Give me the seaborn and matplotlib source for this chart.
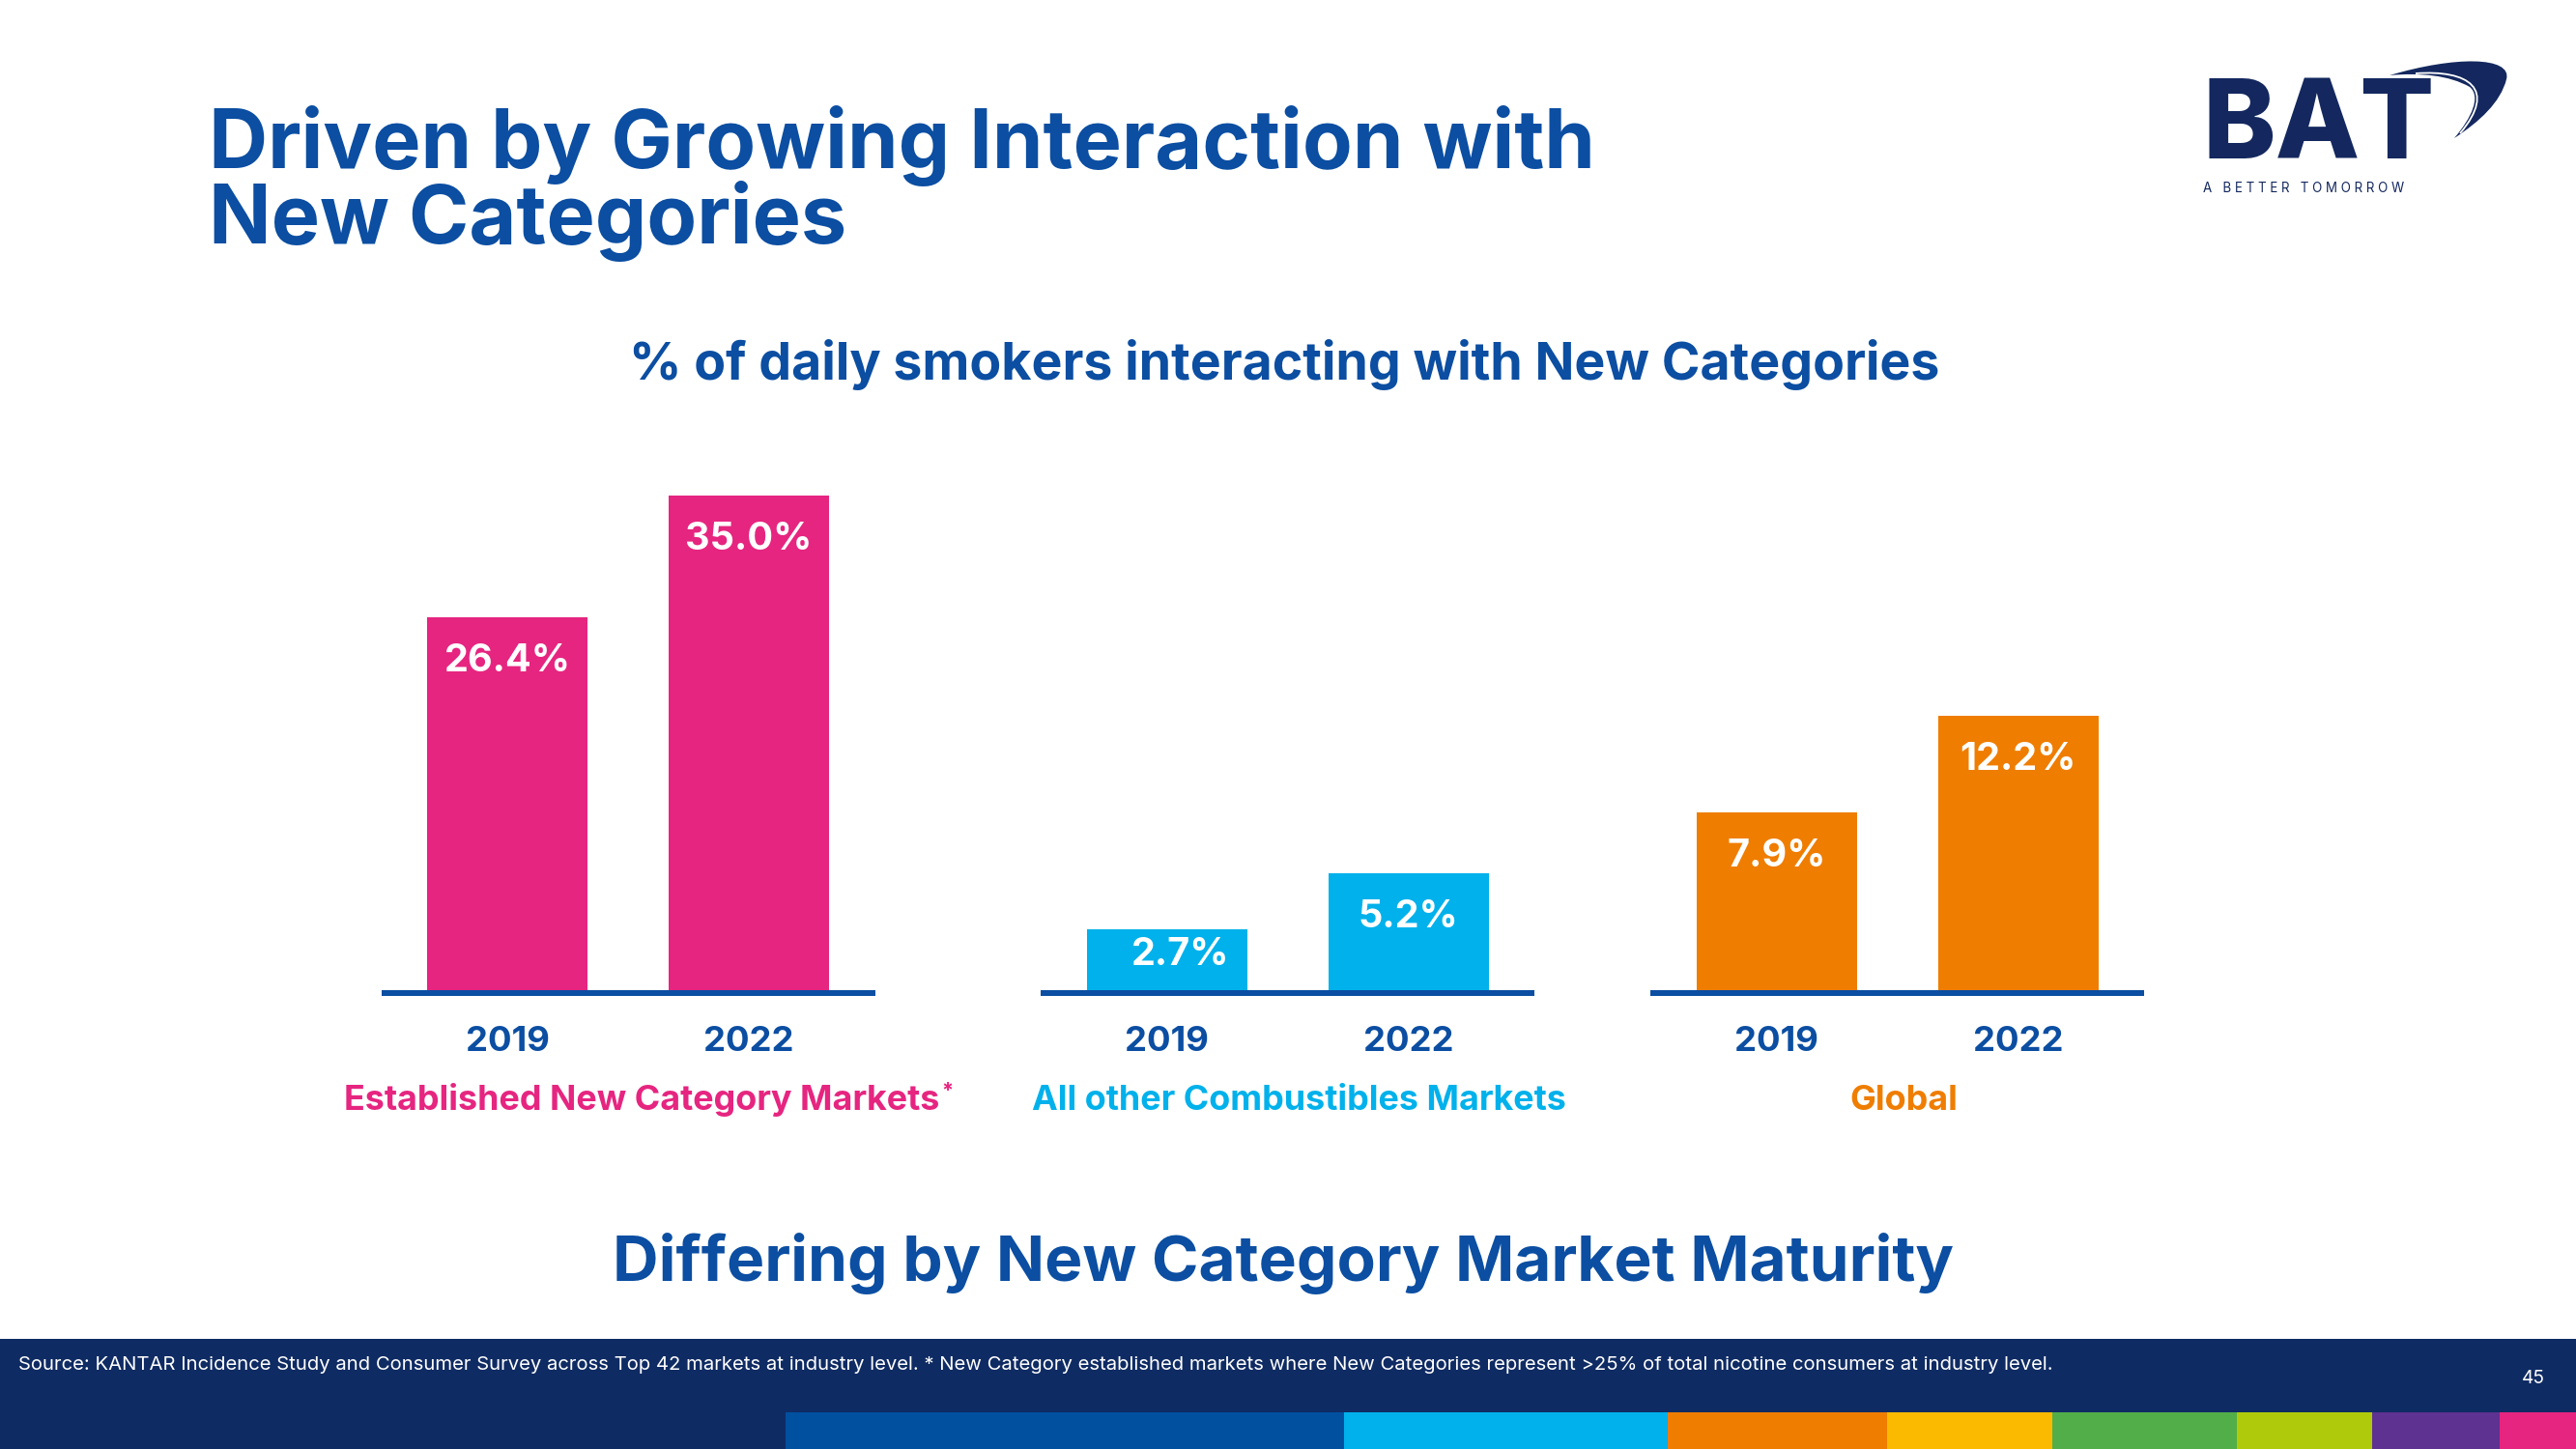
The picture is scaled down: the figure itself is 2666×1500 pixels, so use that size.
import matplotlib
matplotlib.use("Agg")
import matplotlib.pyplot as plt
import matplotlib.transforms as mtransforms
from matplotlib.patches import Rectangle, PathPatch
from matplotlib.path import Path
import seaborn as sns
import pandas as pd

# ---------------- data ----------------
years = ["2019", "2022"]
group_names = ["Established New Category Markets",
               "All other Combustibles Markets",
               "Global"]
established_share = [26.4, 35.0]
other_combustibles_share = [2.7, 5.2]
global_share = [7.9, 12.2]

title_lines = ["Driven by Growing Interaction with", "New Categories"]
subtitle = "% of daily smokers interacting with New Categories"
bottom_heading = "Differing by New Category Market Maturity"
source_note = ("Source: KANTAR Incidence Study and Consumer Survey across Top 42 markets at "
               "industry level. * New Category established markets where New Categories "
               "represent >25% of total nicotine consumers at industry level.")
page_number = "45"
logo_word = "BAT"
logo_tagline = "A BETTER TOMORROW"

# ---------------- style ----------------
sns.set_theme(style="white")
plt.rcParams["font.family"] = ["Inter", "DejaVu Sans"]

BLUE = "#0B4EA2"
NAVY = "#0F2B63"
LOGO = "#14285F"
PINK = "#E62580"
CYAN = "#00B1EB"
ORANGE = "#EF7D00"
STRIP_COLORS = ["#0050A0", "#00B1EB", "#EF7D00", "#FBBA00",
                "#52AE48", "#AFCA0B", "#5E3290", "#E62580"]
STRIP_EDGES = [813, 1391, 1726, 1953, 2124, 2315, 2455, 2587, 2666]

W, H, DPI = 2666, 1500, 100
PT = 72.0 / DPI          # points per pixel
CAP = 0.727              # cap-height / em

fig = plt.figure(figsize=(W / DPI, H / DPI), dpi=DPI)
fig.patch.set_facecolor("white")
renderer = fig.canvas.get_renderer()


def fsize(s, target_w, weight="bold", base=40.0):
    t = fig.text(0, 0, s, fontsize=base, fontweight=weight)
    w = t.get_window_extent(renderer).width
    t.remove()
    return base * target_w / w


def cap_px(fs):
    return fs / PT * CAP


# decoration layer in pixel coordinates (origin top-left)
deco = fig.add_axes([0, 0, 1, 1], zorder=0)
deco.set_xlim(0, W)
deco.set_ylim(H, 0)
deco.axis("off")

# ---------------- titles ----------------
fs = fsize(title_lines[0], 1437)
deco.text(216, 174, title_lines[0], fontsize=fs, fontweight="bold", color=BLUE,
          ha="left", va="baseline")
deco.text(216, 252, title_lines[1], fontsize=fs, fontweight="bold", color=BLUE,
          ha="left", va="baseline")

fs = fsize(subtitle, 1357)
deco.text(1329, 393, subtitle, fontsize=fs, fontweight="bold", color=BLUE,
          ha="center", va="baseline")

fs = fsize(bottom_heading, 1388)
deco.text(1328, 1326, bottom_heading, fontsize=fs, fontweight="bold", color=BLUE,
          ha="center", va="baseline")

# ---------------- logo ----------------
fs = fsize(logo_word, 240, weight="heavy")
deco.text(2280, 164, logo_word, fontsize=fs, fontweight="heavy", color=LOGO,
          ha="left", va="baseline")

outer = [(2473, 78), (2540, 58), (2600, 58), (2594, 82),
         (2588, 106), (2566, 126), (2540, 143),
         (2558, 122), (2568, 100), (2556, 90),
         (2535, 78), (2505, 75), (2473, 78)]
codes = [Path.MOVETO] + [Path.CURVE4] * 12
deco.add_patch(PathPatch(Path(outer, codes), facecolor=LOGO, edgecolor="none"))
split = [(2500, 76), (2555, 72), (2585, 92), (2546, 138)]
deco.add_patch(PathPatch(Path(split, [Path.MOVETO] + [Path.CURVE4] * 3),
                         facecolor="none", edgecolor="white", lw=1.3))

# letter-spaced tagline as a single text
spaced_tagline = "   ".join(" ".join(word) for word in logo_tagline.split(" "))
fs = fsize(spaced_tagline, 209, weight="normal")
deco.text(2280, 199, spaced_tagline, fontsize=fs, color=LOGO, ha="left", va="baseline")

# ---------------- footer ----------------
deco.add_patch(Rectangle((0, 1386), W, H - 1386, facecolor=NAVY, edgecolor="none"))
for c, x0, x1 in zip(STRIP_COLORS, STRIP_EDGES[:-1], STRIP_EDGES[1:]):
    deco.add_patch(Rectangle((x0, 1462), x1 - x0, H - 1462, facecolor=c, edgecolor="none"))
fs = fsize(source_note, 2106, weight="normal")
deco.text(19, 1418, source_note, fontsize=fs, color="white", ha="left", va="baseline")
fs = fsize(page_number, 24, weight="normal")
deco.text(2622, 1432, page_number, fontsize=fs, color="white", ha="center", va="baseline")

# ---------------- bar charts ----------------
groups = [(established_share, PINK), (other_combustibles_share, CYAN), (global_share, ORANGE)]
BASE_Y = 1025            # pixel row of bar bottoms
AX_H = 540               # axes height in pixels
SPACING = 250            # pixels per category step
AX_W = 2.044 * SPACING
group_left = [394.5, 1077, 1708]
px_per_pct = [14.63, 23.3, 23.3]
group_label_dx = [14, 12, 7]
label_nudge = {(1, 0): (14, 23)}   # (dx px, center depth px below bar top)
LABEL_DEPTH = 42

fs_val = fsize("35.0%", 131)
fs_year = fsize("2019", 87)
fs_group = fsize(group_names[1], 553)

for gi, (vals, col) in enumerate(groups):
    ax = fig.add_axes([group_left[gi] / W, (H - BASE_Y) / H, AX_W / W, AX_H / H], zorder=2)
    df = pd.DataFrame({"year": years, "share": vals})
    sns.barplot(data=df, x="year", y="share", order=years, color=col, saturation=1,
                width=0.664, errorbar=None, linewidth=0, ax=ax)
    ax.set_xlim(-0.522, 1.522)
    ax.set_ylim(0, AX_H / px_per_pct[gi])
    ax.set_facecolor("none")
    for s in ["top", "right", "left"]:
        ax.spines[s].set_visible(False)
    sp = ax.spines["bottom"]
    sp.set_visible(True)
    sp.set_color(BLUE)
    sp.set_linewidth(6 * PT)
    sp.set_capstyle("butt")
    sp.set_position(("outward", 3 * PT))
    ax.set_xticks([])
    ax.set_yticks([])
    ax.set_xlabel("")
    ax.set_ylabel("")

    mix = mtransforms.blended_transform_factory(ax.transData, deco.transData)
    for i, p in enumerate(ax.patches):
        cx = p.get_x() + p.get_width() / 2
        top = p.get_height()
        dx, depth = label_nudge.get((gi, i), (0, LABEL_DEPTH))
        ax.annotate(f"{vals[i]:.1f}%", xy=(cx, top),
                    xytext=(dx * PT, -(depth + cap_px(fs_val) / 2) * PT),
                    textcoords="offset points", ha="center", va="baseline",
                    color="white", fontweight="bold", fontsize=fs_val)
        ax.text(cx, 1088, years[i], transform=mix, ha="center", va="baseline",
                color=BLUE, fontweight="bold", fontsize=fs_year)

    gx = 0.5 + group_label_dx[gi] / SPACING
    gt = ax.text(gx, 1149, group_names[gi], transform=mix, ha="center", va="baseline",
                 color=col, fontweight="bold", fontsize=fs_group)
    if gi == 0:
        bb = gt.get_window_extent(renderer)
        deco.text(bb.x1 + 2, 1136, "*", ha="left", va="baseline", color=col,
                  fontweight="bold", fontsize=fs_group * 0.6)

fig.savefig("out.png", dpi=DPI, facecolor="white")
